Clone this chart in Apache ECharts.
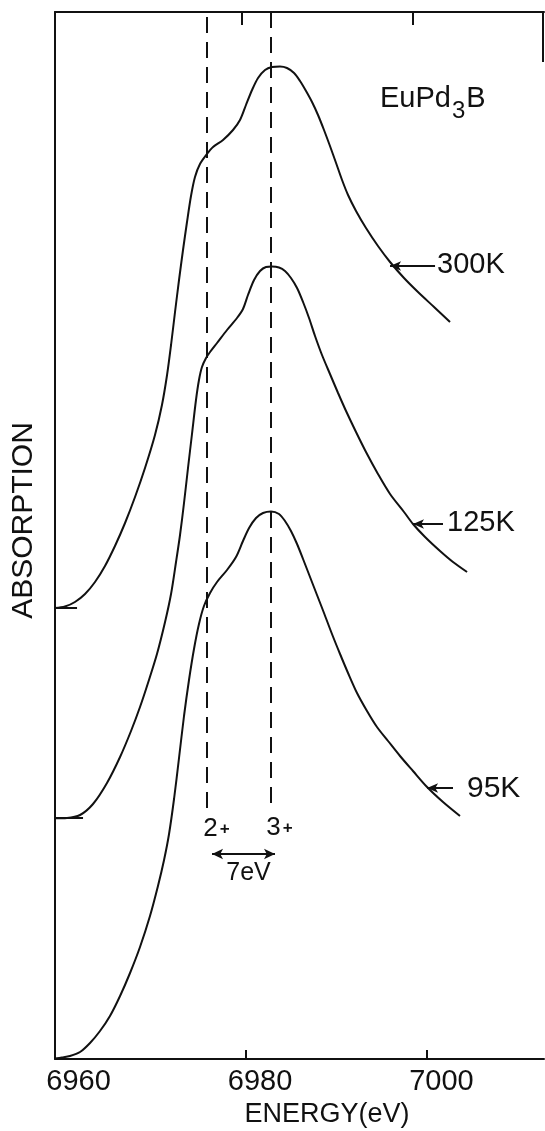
<!DOCTYPE html>
<html>
<head>
<meta charset="utf-8">
<script src="https://cdn.jsdelivr.net/npm/echarts@6/dist/echarts.min.js"></script>
<style>
html,body{margin:0;padding:0;background:#fff;}
#c{width:545px;height:1131px;}
</style>
</head>
<body>
<div id="c"></div>
<script>
// ---- data (energy in eV, absorption in arbitrary units; curves offset vertically as drawn) ----
const energy300K = [6959.00, 6960.10, 6961.20, 6962.31, 6963.41, 6964.51, 6965.61, 6966.72, 6967.82, 6968.92, 6970.02, 6970.79, 6971.35, 6971.79, 6972.23, 6972.67, 6973.11, 6973.55, 6973.99, 6974.43, 6974.98, 6975.75, 6976.42, 6977.52, 6978.62, 6979.39, 6980.05, 6980.72, 6981.38, 6982.15, 6982.92, 6983.80, 6984.57, 6985.35, 6986.01, 6986.67, 6987.33, 6987.99, 6988.65, 6989.31, 6989.98, 6990.64, 6991.30, 6992.18, 6993.28, 6994.60, 6995.93, 6997.47, 6999.01, 7000.78, 7002.54];
const absorption300K = [45.1, 45.25, 45.7, 46.5, 47.7, 49.3, 51.3, 53.6, 56.2, 59.1, 62.4, 65.4, 68.4, 71.4, 74.7, 77.9, 80.9, 83.7, 86.3, 88.2, 89.5, 90.5, 91.2, 91.9, 92.9, 93.9, 95.4, 96.9, 98.1, 98.9, 99.2, 99.25, 99.1, 98.6, 97.8, 96.8, 95.7, 94.4, 92.9, 91.3, 89.6, 87.9, 86.4, 84.8, 83.1, 81.3, 79.7, 78.1, 76.7, 75.2, 73.7];

const energy125K = [6959.00, 6960.32, 6961.76, 6963.19, 6964.73, 6966.17, 6967.38, 6968.37, 6969.25, 6970.24, 6971.13, 6971.79, 6972.34, 6972.78, 6973.22, 6973.66, 6974.10, 6974.54, 6974.87, 6975.20, 6975.65, 6976.09, 6976.86, 6977.96, 6979.06, 6979.72, 6980.27, 6980.94, 6981.60, 6982.26, 6982.92, 6983.69, 6984.35, 6985.01, 6985.68, 6986.34, 6987.00, 6987.66, 6988.43, 6989.31, 6990.20, 6991.08, 6992.18, 6993.28, 6994.60, 6995.93, 6997.47, 6998.46, 6999.79, 7001.44, 7002.87, 7004.42];
const absorption125K = [24.07, 24.1, 24.4, 25.5, 27.6, 30.2, 32.8, 35.2, 37.6, 40.5, 43.7, 46.5, 49.7, 52.4, 55.6, 59.1, 62.5, 65.9, 67.9, 69.2, 70.1, 70.7, 71.6, 72.9, 74.1, 75.0, 76.4, 77.9, 78.8, 79.2, 79.25, 79.15, 78.8, 78.1, 77.1, 75.7, 74.1, 72.3, 70.4, 68.5, 66.6, 64.8, 62.7, 60.7, 58.5, 56.5, 54.7, 53.5, 52.2, 50.8, 49.7, 48.7];

const energy95K = [6959.00, 6959.77, 6960.65, 6961.76, 6962.86, 6963.96, 6965.06, 6966.17, 6967.27, 6968.37, 6969.47, 6970.35, 6971.02, 6971.57, 6972.12, 6972.67, 6973.22, 6973.77, 6974.32, 6974.87, 6975.42, 6976.09, 6976.86, 6977.96, 6978.95, 6979.72, 6980.39, 6981.16, 6981.93, 6982.81, 6983.69, 6984.35, 6985.01, 6985.68, 6986.34, 6987.11, 6987.88, 6988.65, 6989.53, 6990.42, 6991.30, 6992.29, 6993.39, 6994.49, 6995.71, 6997.03, 6998.46, 7000.01, 7001.77, 7003.64];
const absorption95K = [0.05, 0.15, 0.3, 0.7, 1.6, 2.8, 4.3, 6.3, 8.6, 11.2, 14.3, 17.3, 19.9, 22.5, 26.0, 30.1, 34.3, 37.9, 41.0, 43.5, 45.3, 46.6, 47.7, 48.9, 50.2, 51.8, 53.1, 54.1, 54.6, 54.75, 54.5, 53.8, 52.8, 51.5, 50.0, 48.2, 46.4, 44.6, 42.5, 40.5, 38.6, 36.6, 34.8, 33.2, 31.8, 30.3, 28.8, 27.2, 25.7, 24.3];

// axis ticks / labels
const energyTickValues = [6980, 7000];
const energyLabelValues = [6960, 6980, 7000];
const topTickEnergies = [6979.6, 6998.4];

// valence markers (2+ / 3+ lines) and separation
const valenceNames = ['2+', '3+'];
const valenceEnergies = [6975.72, 6982.78];
const valenceLineTop = [104.2, 104.7];
const valenceLineBottom = 24.9;
const valenceLabelEnergies = [6976.80, 6983.75];
const valenceLabelAbsorption = [23.0, 23.1];
const separationEnergies = [6976.31, 6983.25];
const separationAbsorption = 20.5;
const separationText = '7eV';
const separationTextPos = [6980.33, 18.6];

// temperature labels with arrows
const tempNames = ['300K', '125K', '95K'];
const tempLabelEnergies = [7001.11, 7002.21, 7004.41];
const tempLabelAbsorption = [79.4, 53.65, 27.05];
const arrowTailEnergies = [7000.89, 7001.77, 7002.87];
const arrowTipEnergies = [6995.93, 6998.46, 7000.01];
const arrowAbsorption = [79.3, 53.5, 27.1];

// baseline marks at the start of the offset curves
const baselineEndEnergies = [6961.43, 6962.09];
const baselineAbsorption = [45.1, 24.1];

// remnant of the frame at the top right
const frameRightEnergy = 7012.75;
const frameRightAbsorption = [104.7, 99.7];

const compound = 'EuPd3B';
const compoundPos = [6994.82, 97.45];

// ---- chart ----
const INK = '#111';
const FONT = "'Liberation Sans', Arial, sans-serif";
const zip = (xs, ys) => xs.map((x, i) => [x, ys[i]]);

function curve(name, xs, ys) {
  return {
    name, type: 'line', data: zip(xs, ys), showSymbol: false, smooth: 0.3,
    lineStyle: { color: INK, width: 2 }, itemStyle: { color: INK }, silent: true, animation: false
  };
}

const solid = { color: INK, width: 2, type: 'solid', opacity: 1 };
const markLines = [];
valenceEnergies.forEach((e, i) => {
  markLines.push([
    { coord: [e, valenceLineTop[i]], symbol: 'none', lineStyle: { color: INK, width: 2, type: [16, 9], opacity: 1 } },
    { coord: [e, valenceLineBottom], symbol: 'none' }
  ]);
});
markLines.push([
  { coord: [separationEnergies[0], separationAbsorption], symbol: 'arrow', symbolSize: [8, 11], lineStyle: solid },
  { coord: [separationEnergies[1], separationAbsorption], symbol: 'arrow', symbolSize: [8, 11] }
]);
tempNames.forEach((n, i) => {
  markLines.push([
    { coord: [arrowTailEnergies[i], arrowAbsorption[i]], symbol: 'none', lineStyle: solid },
    { coord: [arrowTipEnergies[i], arrowAbsorption[i]], symbol: 'arrow', symbolSize: [7, 11] }
  ]);
});
baselineEndEnergies.forEach((e, i) => {
  markLines.push([
    { coord: [6959, baselineAbsorption[i]], symbol: 'none', lineStyle: solid },
    { coord: [e, baselineAbsorption[i]], symbol: 'none' }
  ]);
});
markLines.push([
  { coord: [frameRightEnergy, frameRightAbsorption[0]], symbol: 'none', lineStyle: solid },
  { coord: [frameRightEnergy, frameRightAbsorption[1]], symbol: 'none' }
]);

const baseLabel = { show: true, color: INK, fontFamily: FONT, opacity: 1, fontWeight: 'normal' };
const textItems = [];
tempNames.forEach((n, i) => {
  textItems.push({
    value: [tempLabelEnergies[i], tempLabelAbsorption[i]],
    label: Object.assign({}, baseLabel, { formatter: n, align: 'left', verticalAlign: 'middle', fontSize: i === 2 ? 30 : 29 })
  });
});
valenceNames.forEach((n, i) => {
  textItems.push({
    value: [valenceLabelEnergies[i], valenceLabelAbsorption[i]],
    label: Object.assign({}, baseLabel, {
      formatter: '{d|' + n[0] + '}{p|' + n.slice(1) + '}', align: 'center', verticalAlign: 'middle',
      rich: { d: { fontSize: 26, fontFamily: FONT, color: INK }, p: { fontSize: 17, fontWeight: 'bold', fontFamily: FONT, color: INK, padding: [0, 0, 0, 2] } }
    })
  });
});
textItems.push({
  value: separationTextPos,
  label: Object.assign({}, baseLabel, { formatter: separationText, align: 'center', verticalAlign: 'middle', fontSize: 25 })
});
textItems.push({
  value: compoundPos,
  label: Object.assign({}, baseLabel, {
    formatter: '{a|' + compound.slice(0, 4) + '}{s|' + compound.slice(4, 5) + '}{a|' + compound.slice(5) + '}',
    align: 'left', verticalAlign: 'top',
    rich: {
      a: { fontSize: 29, fontFamily: FONT, color: INK, verticalAlign: 'top' },
      s: { fontSize: 24, fontFamily: FONT, color: INK, verticalAlign: 'top', padding: [15, 1, 0, 1] }
    }
  })
});

const option = {
  backgroundColor: '#fff',
  animation: false,
  grid: { left: 55, right: 1, top: 12, bottom: 72, outerBoundsMode: 'none', containLabel: false },
  xAxis: [
    {
      type: 'value', min: 6959, max: 7012.9, position: 'bottom',
      name: 'ENERGY(eV)', nameLocation: 'middle', nameGap: 40,
      nameTextStyle: { fontSize: 27, fontFamily: FONT, color: INK, padding: [0, 0, 0, 55] },
      axisLine: { show: true, onZero: false, lineStyle: { color: INK, width: 2 } },
      axisTick: { show: true, inside: true, length: 9, customValues: energyTickValues, lineStyle: { color: INK, width: 2 } },
      axisLabel: { show: true, customValues: energyLabelValues, formatter: v => String(Math.round(v)), margin: 8, fontSize: 29, fontFamily: FONT, color: INK, padding: [0, 0, 0, 29] },
      splitLine: { show: false }
    },
    {
      type: 'value', min: 6959, max: 7012.9, position: 'top',
      axisLine: { show: true, onZero: false, lineStyle: { color: INK, width: 2 } },
      axisTick: { show: true, inside: true, length: 13, customValues: topTickEnergies, lineStyle: { color: INK, width: 2 } },
      axisLabel: { show: false },
      splitLine: { show: false }
    }
  ],
  yAxis: {
    type: 'value', min: 0, max: 104.7,
    name: 'ABSORPTION', nameLocation: 'middle', nameGap: 16, nameRotate: 90,
    nameTextStyle: { fontSize: 30, fontFamily: FONT, color: INK, padding: [0, 0, 0, 30] },
    axisLine: { show: true, onZero: false, lineStyle: { color: INK, width: 2 } },
    axisTick: { show: false }, axisLabel: { show: false }, splitLine: { show: false }
  },
  series: [
    curve('300K', energy300K, absorption300K),
    curve('125K', energy125K, absorption125K),
    Object.assign(curve('95K', energy95K, absorption95K), {
      markLine: { silent: true, animation: false, symbol: ['none', 'none'], label: { show: false }, emphasis: { disabled: true }, data: markLines }
    }),
    {
      name: 'annotations', type: 'scatter', symbolSize: 0, silent: true, animation: false,
      itemStyle: { color: INK, opacity: 1 },
      data: textItems,
      label: Object.assign({}, baseLabel, { position: [0, 0] })
    }
  ]
};

const chart = echarts.init(document.getElementById('c'), null, { renderer: 'canvas' });
chart.setOption(option);
</script>
</body>
</html>
